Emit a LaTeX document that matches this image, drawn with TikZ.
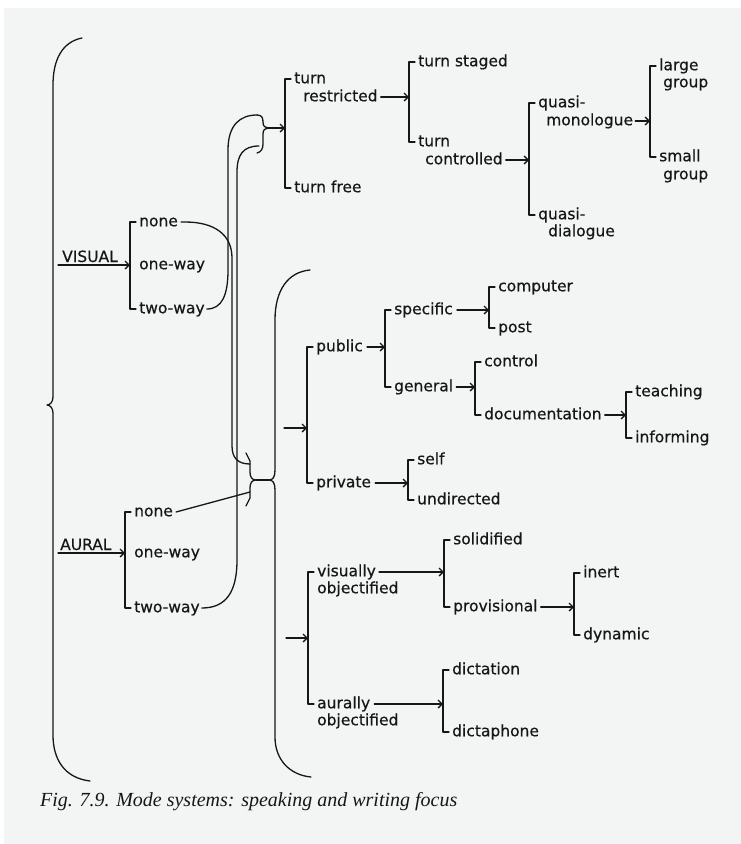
\documentclass[tikz,border=0pt]{standalone}
\usepackage{fontspec}
\newfontfamily\netfont[FakeBold=0.5]{DejaVu Sans}
\newfontfamily\capfont{Liberation Serif}
\usetikzlibrary{arrows.meta}
\definecolor{ink}{RGB}{22,22,22}
\definecolor{paper}{RGB}{243,245,245}

\begin{document}
\begin{tikzpicture}[x=1pt,y=-1pt,
  ln/.style={draw=ink, line width=1.3pt, line cap=round, line join=round},
  arr/.style={ln, -{Straight Barb[length=4pt,width=8pt]}},
  lbl/.style={font=\netfont\fontsize{15.5}{18}\selectfont, text=ink, inner sep=0pt,
              anchor=west, text height=8.5pt, text depth=0pt},
  head/.style={font=\netfont\fontsize{15.5}{18}\selectfont, text=ink, inner sep=0pt, anchor=base west},
  figcap/.style={font=\capfont\itshape\fontsize{20}{24}\selectfont, text=ink, inner sep=0pt, anchor=base west}]

% page and scanned sheet
\useasboundingbox (0,0) rectangle (741,844);
\fill[white] (0,0) rectangle (741,844);
\fill[paper] (4,8) rectangle (741,844);

% ---------- labels ----------
\node[head] (vis) at (62,262) {VISUAL};
\node[lbl] (vnone) at (139,222) {none};
\node[lbl] (vone)  at (139,265) {one-way};
\node[lbl] (vtwo)  at (139,309) {two-way};

\node[head] (aur) at (60,550) {AURAL};
\node[lbl] (anone) at (134,512) {none};
\node[lbl] (aone)  at (134,553) {one-way};
\node[lbl] (atwo)  at (134,608) {two-way};

\node[lbl] (turnA) at (294,79)  {turn};
\node[lbl] (restr) at (303,97)  {restricted};
\node[lbl] (tfree) at (294,188) {turn free};

\node[lbl] (tstaged) at (418,62)  {turn staged};
\node[lbl] (turnB)   at (418,142) {turn};
\node[lbl] (contr)   at (425,160) {controlled};

\node[lbl] (quasiA) at (538,103) {quasi-};
\node[lbl] (monol)  at (546,121) {monologue};
\node[lbl] (quasiB) at (538,215) {quasi-};
\node[lbl] (dial)   at (548,232) {dialogue};

\node[lbl] (large)  at (659,66)  {large};
\node[lbl] (groupA) at (663,83)  {group};
\node[lbl] (small)  at (659,157) {small};
\node[lbl] (groupB) at (663,175) {group};

\node[lbl] (public)  at (316,347) {public};
\node[lbl] (private) at (316,483) {private};
\node[lbl] (specific) at (394,310) {specific};
\node[lbl] (general)  at (394,387) {general};
\node[lbl] (computer) at (498,287) {computer};
\node[lbl] (post)     at (498,328) {post};
\node[lbl] (control)  at (484,362) {control};
\node[lbl] (docu)     at (484,415) {documentation};
\node[lbl] (teach)    at (635,392) {teaching};
\node[lbl] (inform)   at (635,438) {informing};
\node[lbl] (self)     at (417,460) {self};
\node[lbl] (undir)    at (417,500) {undirected};

\node[lbl] (visually) at (317,572) {visually};
\node[lbl] (objA)     at (317,589) {objectified};
\node[lbl] (aurally)  at (317,704) {aurally};
\node[lbl] (objB)     at (317,721) {objectified};
\node[lbl] (solid)    at (453,540) {solidified};
\node[lbl] (prov)     at (453,607) {provisional};
\node[lbl] (inert)    at (583,573) {inert};
\node[lbl] (dynamic)  at (583,635) {dynamic};
\node[lbl] (dictation)  at (452,670) {dictation};
\node[lbl] (dictaphone) at (452,732) {dictaphone};

\node[figcap] (caption) at (40,806) {Fig. 7.9. Mode systems: speaking and writing focus};

% ---------- system brackets ----------
\draw[ln] ([xshift=-3pt]vnone.west) -- ++(-6,0) coordinate (BV) |- ([xshift=-3pt]vtwo.west);
\draw[ln] ([xshift=-3pt]anone.west) -- ++(-6,0) coordinate (BA) |- ([xshift=-3pt]atwo.west);
\draw[ln] ([xshift=-3pt]turnA.west) -- ++(-6,0) coordinate (Bturn) |- ([xshift=-3pt]tfree.west);
\draw[ln] ([xshift=-3pt]tstaged.west) -- ++(-6,0) coordinate (Bts) |- ([xshift=-3pt]turnB.west);
\draw[ln] ([xshift=-3pt]quasiA.west) -- ++(-6,0) coordinate (Bq) |- ([xshift=-3pt]quasiB.west);
\draw[ln] ([xshift=-3pt]large.west) -- ++(-6,0) coordinate (Bg) |- ([xshift=-3pt]small.west);
\draw[ln] ([xshift=-3pt]public.west) -- ++(-6,0) coordinate (Bpub) |- ([xshift=-3pt]private.west);
\draw[ln] ([xshift=-3pt]specific.west) -- ++(-6,0) coordinate (Bspec) |- ([xshift=-3pt]general.west);
\draw[ln] ([xshift=-3pt]computer.west) -- ++(-6,0) coordinate (Bcomp) |- ([xshift=-3pt]post.west);
\draw[ln] ([xshift=-3pt]control.west) -- ++(-6,0) coordinate (Bctrl) |- ([xshift=-3pt]docu.west);
\draw[ln] ([xshift=-3pt]teach.west) -- ++(-6,0) coordinate (Bteach) |- ([xshift=-3pt]inform.west);
\draw[ln] ([xshift=-3pt]self.west) -- ++(-6,0) coordinate (Bself) |- ([xshift=-3pt]undir.west);
\draw[ln] ([xshift=-3pt]visually.west) -- ++(-6,0) coordinate (Bva) |- ([xshift=-3pt]aurally.west);
\draw[ln] ([xshift=-3pt]solid.west) -- ++(-6,0) coordinate (Bsol) |- ([xshift=-3pt]prov.west);
\draw[ln] ([xshift=-3pt]inert.west) -- ++(-6,0) coordinate (Binert) |- ([xshift=-3pt]dynamic.west);
\draw[ln] ([xshift=-3pt]dictation.west) -- ++(-6,0) coordinate (Bdict) |- ([xshift=-3pt]dictaphone.west);

% ---------- braces ----------
% simultaneous systems: VISUAL and AURAL
\draw[ln] (82,38) .. controls (62,42) and (53,60) .. (53,85) -- (53,397)
  .. controls (53,402) and (50,405) .. (47,405)
  .. controls (50,405) and (53,408) .. (53,413) -- (53,735)
  .. controls (53,760) and (65,778) .. (90,781);

% entry to turn
\coordinate (tbTop) at (257,115);
\coordinate (tbLow) at (259,146);
\coordinate (tbTip) at (268,128);
\draw[ln] (tbTop) .. controls (262,115) and (263,118) .. (263,122)
  .. controls (263,126) and (265,128) .. (tbTip)
  .. controls (265,128) and (263,130) .. (263,134) -- (263,144)
  .. controls (263,149) and (261,152) .. (257,153);

% conjunction of the two "none" features
\coordinate (mbU) at (250,464);
\coordinate (mbL) at (250,492);
\coordinate (mbTip) at (256,480);
\coordinate (rbTip) at (269,480);
\draw[ln] (246,453) -- (250,461) -- (250,472) .. controls (250,477) and (252,480) .. (mbTip)
  .. controls (252,480) and (250,483) .. (250,488) -- (250,498) -- (246,506);
\draw[ln] (mbTip) -- (rbTip);

% simultaneous systems of writing
\draw[ln] (310,270) .. controls (288,272) and (275,290) .. (275,320) -- (275,470)
  .. controls (275,477) and (273,480) .. (rbTip)
  .. controls (273,480) and (275,483) .. (275,490) -- (275,737)
  .. controls (275,760) and (290,775) .. (311,777);

% ---------- connectors between features ----------
\draw[ln] ([xshift=2pt]vtwo.east) .. controls (222,309) and (228,295) .. (228,270) -- (228,150)
  .. controls (228,125) and (240,115) .. (tbTop);
\draw[ln] ([xshift=3pt]vnone.east) -- (185,222) .. controls (215,222) and (232,235) .. (232,258)
  -- (232,446) .. controls (232,458) and (238,464) .. (mbU);
\draw[ln] (tbLow) .. controls (243,146) and (237,155) .. (237,172) -- (237,560)
  .. controls (237,592) and (226,608) .. ([xshift=2pt]atwo.east);
\draw[ln] ([xshift=3pt]anone.east) -- (mbL);

% ---------- arrows ----------
\coordinate (visStart) at (58,265);
\coordinate (aurStart) at (58,553);
\coordinate (rbA) at (284,428);
\coordinate (rbB) at (286,638);
\draw[arr] (visStart) -- (visStart -| BV);
\draw[arr] (aurStart) -- (aurStart -| BA);
\draw[arr] (tbTip) -- (tbTip -| Bturn);
\draw[arr] ([xshift=3pt]restr.east) -- (restr.east -| Bts);
\draw[arr] ([xshift=3pt]contr.east) -- (contr.east -| Bq);
\draw[arr] ([xshift=2pt]monol.east) -- (monol.east -| Bg);
\draw[arr] (rbA) -- (rbA -| Bpub);
\draw[arr] (rbB) -- (rbB -| Bva);
\draw[arr] ([xshift=4pt]public.east) -- (public.east -| Bspec);
\draw[arr] ([xshift=4pt]specific.east) -- (specific.east -| Bcomp);
\draw[arr] ([xshift=3pt]general.east) -- (general.east -| Bctrl);
\draw[arr] ([xshift=3pt]docu.east) -- (docu.east -| Bteach);
\draw[arr] ([xshift=4pt]private.east) -- (private.east -| Bself);
\draw[arr] ([xshift=3pt]visually.east) -- (visually.east -| Bsol);
\draw[arr] ([xshift=3pt]prov.east) -- (prov.east -| Binert);
\draw[arr] ([xshift=4pt]aurally.east) -- (aurally.east -| Bdict);
\end{tikzpicture}
\end{document}
